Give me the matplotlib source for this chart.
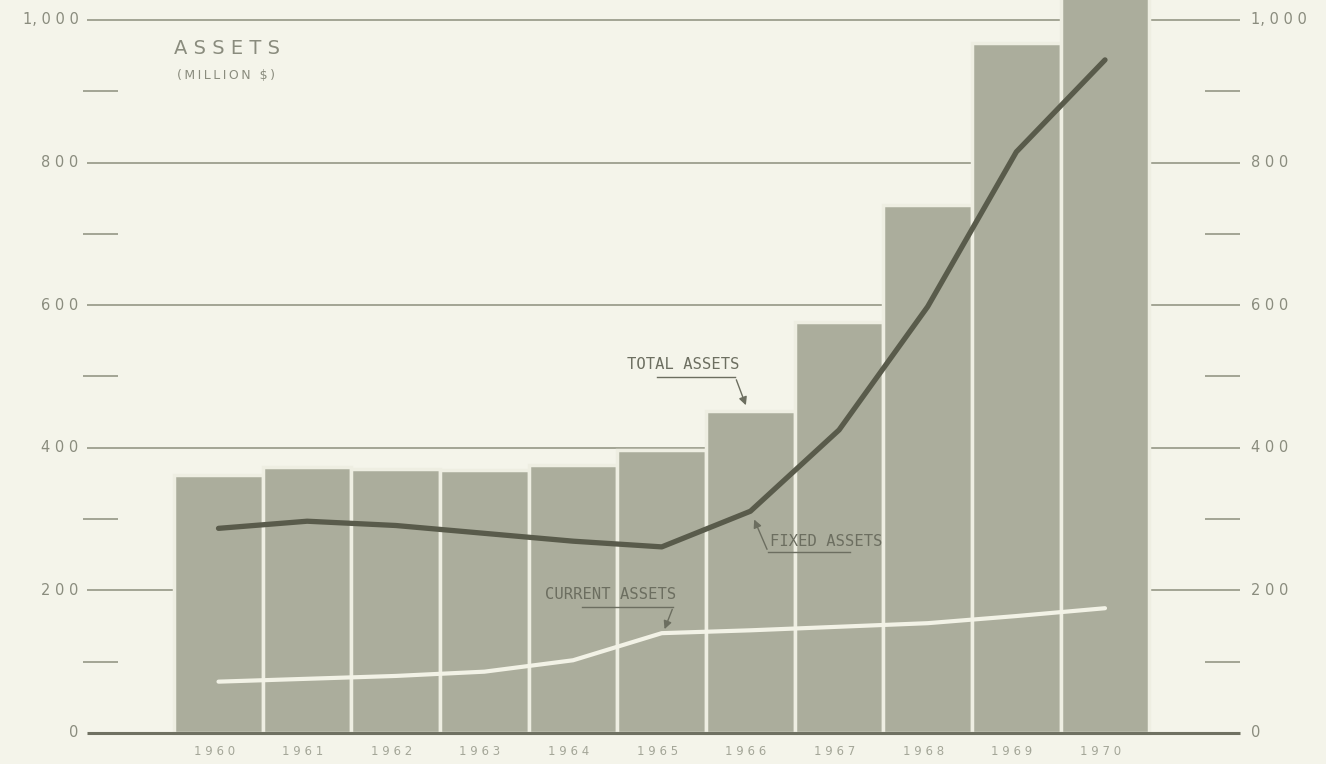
import matplotlib.pyplot as plt
import numpy as np

years = ["1960", "1961", "1962", "1963", "1964", "1965", "1966", "1967", "1968", "1969", "1970"]
total_assets = [362, 373, 370, 369, 376, 397, 452, 577, 741, 968, 1060]
fixed_assets = [287, 297, 291, 280, 269, 261, 311, 425, 598, 815, 944]
current_assets = [72, 76, 80, 86, 102, 140, 144, 149, 154, 164, 175]
major_ticks = [0, 200, 400, 600, 800, 1000]
major_labels = ["0", "200", "400", "600", "800", "1,000"]
minor_ticks = [100, 300, 500, 700, 900]

bg = "#f4f4ea"
bar_col = "#abad9c"
dark = "#595b4b"
txt = "#8a8c7e"
note = "#6c6e60"
grid = "#9c9e8e"

fig = plt.figure(figsize=(13.26, 7.64), dpi=100, facecolor=bg)
ax = fig.add_axes([0, 0, 1, 1])
ax.set_facecolor(bg)
ax.set_xlim(-2.465, 12.493)
ax.set_ylim(-43.5, 1028)
ax.axis("off")

x = np.arange(len(years))

# grid lines behind the bars
gl, gr = -1.483, 11.52
ax.hlines(major_ticks[1:], gl, gr, color=grid, lw=1.3, zorder=1)
ax.hlines(0, gl, gr, color="#6f7162", lw=2.2, zorder=4)
ax.hlines(minor_ticks, -1.528, -1.133, color=grid, lw=1.3, zorder=1)
ax.hlines(minor_ticks, 11.128, gr, color=grid, lw=1.3, zorder=1)

for v, lab in zip(major_ticks, major_labels):
    s = " ".join(lab).replace(" , ", ", ")
    ax.text(-1.58, v, s, ha="right", va="center", fontsize=10.5, color=txt, zorder=5)
    ax.text(11.65, v, s, ha="left", va="center", fontsize=10.5, color=txt, zorder=5)

# full-width bars with light edges so the gaps hide the grid
ax.bar(x, total_assets, width=1.0, color=bar_col, edgecolor="#eeeee2",
       linewidth=2.5, zorder=2)

ax.plot(x, fixed_assets, color=dark, lw=3.8, solid_capstyle="round", zorder=3)
ax.plot(x, current_assets, color="#f2f2e6", lw=3.0, solid_capstyle="round", zorder=3)

for i, y in enumerate(years):
    ax.text(i - 0.05, -26, " ".join(y), ha="center", va="center", fontsize=8.5,
            color="#a4a698", zorder=5)

ax.text(-0.5, 960, "A S S E T S", ha="left", va="center", fontsize=14, color=txt)
ax.text(-0.47, 922, "\u2009".join("(MILLION $)"), ha="left", va="center",
        fontsize=9, color=txt)

# annotations
mono = dict(family="DejaVu Sans Mono", fontsize=11.2, color=note, zorder=5,
            ha="left", va="center")
arr = dict(arrowstyle="-|>", color=note, lw=1, mutation_scale=12)

ax.text(4.61, 517, "TOTAL ASSETS", **mono)
ax.plot([4.95, 5.83], [499, 499], color=note, lw=1, zorder=5)
ax.annotate("", xy=(5.96, 456), xytext=(5.83, 499), arrowprops=arr, zorder=5)

ax.text(6.22, 269, "FIXED ASSETS", **mono)
ax.plot([6.2, 7.12], [254, 254], color=note, lw=1, zorder=5)
ax.annotate("", xy=(6.03, 303), xytext=(6.2, 254), arrowprops=arr, zorder=5)

ax.text(3.68, 194, "CURRENT ASSETS", **mono)
ax.plot([4.1, 5.13], [177, 177], color=note, lw=1, zorder=5)
ax.annotate("", xy=(5.02, 142), xytext=(5.13, 177), arrowprops=arr, zorder=5)

fig.savefig("out.png", dpi=100, facecolor=bg)
